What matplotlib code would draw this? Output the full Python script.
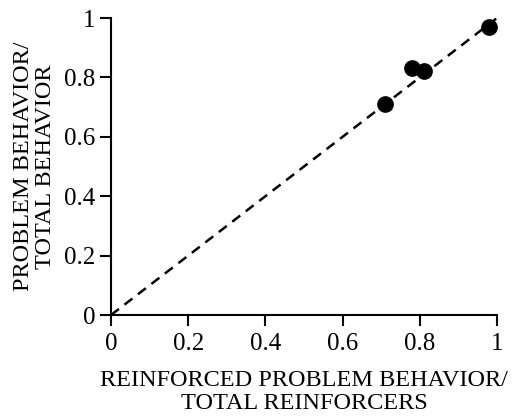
import matplotlib
matplotlib.use("Agg")
import matplotlib.pyplot as plt

x_vals = [0.71, 0.78, 0.81, 0.98]
y_vals = [0.71, 0.83, 0.82, 0.97]
ticks = [0, 0.2, 0.4, 0.6, 0.8, 1]
tick_labels = ["0", "0.2", "0.4", "0.6", "0.8", "1"]
line_x = [0, 1]
line_y = [0, 1]

plt.rcParams['font.family'] = ['Liberation Serif', 'DejaVu Serif']

fig = plt.figure(figsize=(5.13, 4.19), dpi=100)
# axes: x 111..497 px, y 18..315 px
ax = fig.add_axes([111/513, 1-315/419, 386/513, 297/419])
ax.plot(line_x, line_y, linestyle=(0, (4, 2.8)), color='black', lw=1.8, clip_on=False)
ax.plot(x_vals, y_vals, 'o', color='black', markersize=11, clip_on=False, zorder=3)
ax.set_xlim(0, 1)
ax.set_ylim(0, 1)
ax.set_xticks(ticks)
ax.set_xticklabels(tick_labels)
ax.set_yticks(ticks)
ax.set_yticklabels(tick_labels)
for s in ['top', 'right']:
    ax.spines[s].set_visible(False)
for s in ['left', 'bottom']:
    ax.spines[s].set_linewidth(1.5)
ax.tick_params(direction='out', length=8, width=1.5, labelsize=18)
ax.tick_params(axis='x', pad=5)
ax.tick_params(axis='y', pad=3)
ax.set_xlabel("REINFORCED PROBLEM BEHAVIOR/\nTOTAL REINFORCERS", fontsize=17.5,
              linespacing=1.1, labelpad=11)
ax.set_ylabel("PROBLEM BEHAVIOR/\nTOTAL BEHAVIOR", fontsize=17.5,
              linespacing=1.05, labelpad=6)
fig.savefig("out.png", dpi=100)
